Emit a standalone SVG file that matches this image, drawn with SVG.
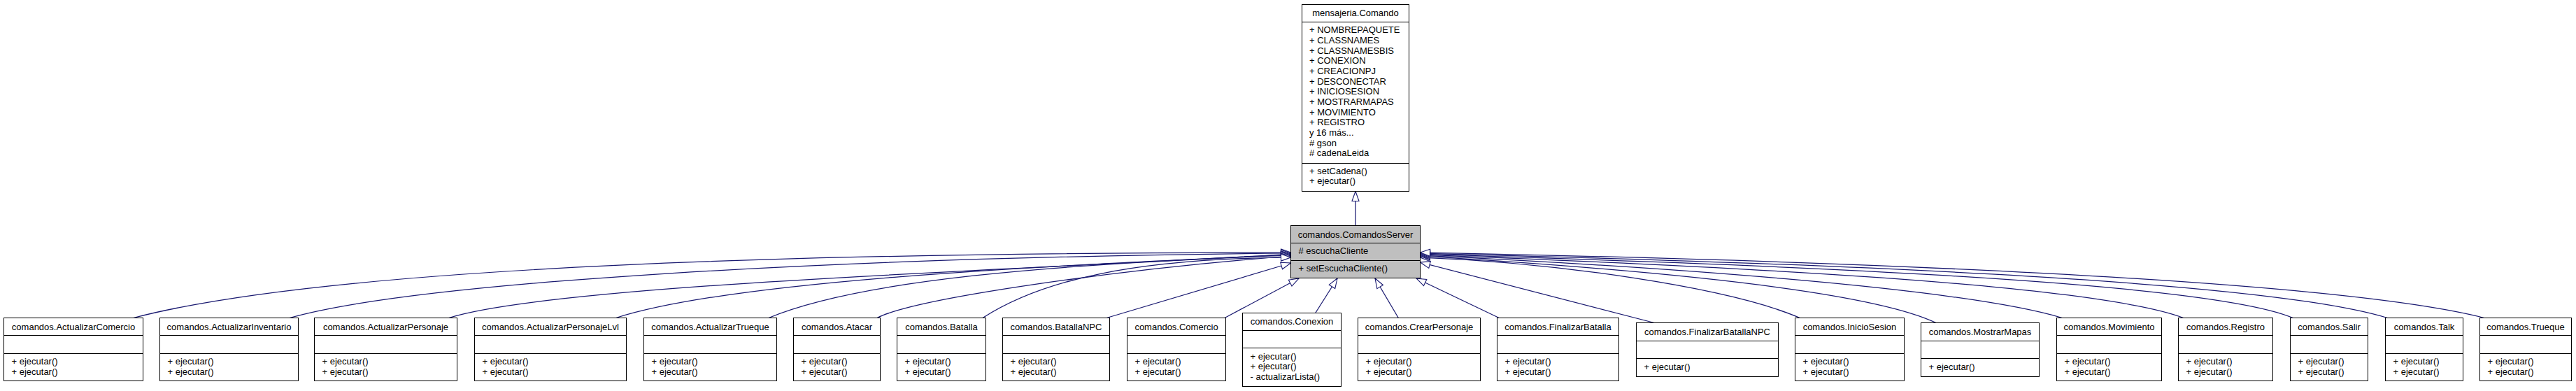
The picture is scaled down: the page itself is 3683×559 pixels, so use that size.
<svg xmlns="http://www.w3.org/2000/svg" width="3683" height="559" viewBox="0 0 3683 559">
<style>
.box{fill:#ffffff;stroke:#000000;stroke-width:1}
.cur{fill:#bfbfbf;stroke:#000000;stroke-width:1}
.sep{stroke:#000000;stroke-width:1}
text{font-family:"Liberation Sans",Arial,sans-serif;font-size:13px;fill:#000000}
.t{text-anchor:middle}
.e{fill:none;stroke:#191970;stroke-width:1.25;marker-end:url(#ah)}
</style>
<defs>
<marker id="ah" viewBox="-1 -6 16 12" refX="14" refY="0" markerWidth="16" markerHeight="12" markerUnits="userSpaceOnUse" orient="auto" overflow="visible">
<path d="M0,-5 L14,0 L0,5 Z" fill="#ffffff" stroke="#191970" stroke-width="1.1"/>
</marker>
</defs>
<rect width="3683" height="559" fill="#ffffff"/>

<g id="edges">
<path class="e" d="M1938,322.5 L1938,273.5"/>
<path class="e" d="M190.7,454.5 Q549,361 1845.5,361"/>
<path class="e" d="M414,454.5 C600,402 1200,368 1845.5,362"/>
<path class="e" d="M641.7,454.5 C800,405 1500,385 1845.5,363"/>
<path class="e" d="M880.7,454.5 C1050,400 1500,380 1845.5,364"/>
<path class="e" d="M1099,454.5 C1230,400 1500,378 1845.5,365"/>
<path class="e" d="M1254,454.5 C1310,426 1600,385 1845.5,366"/>
<path class="e" d="M1405,454.5 C1490,400 1620,370 1845.5,368"/>
<path class="e" d="M1582.3,454.5 L1845.5,376"/>
<path class="e" d="M1751,454.5 L1857,398"/>
<path class="e" d="M1880.7,447.5 L1912,398"/>
<path class="e" d="M1999.3,454.5 L1966,398"/>
<path class="e" d="M2143.3,454.5 L2025,398"/>
<path class="e" d="M2365,461.5 L2030.5,375"/>
<path class="e" d="M2573.3,454.5 C2470,410 2220,375 2030.5,368"/>
<path class="e" d="M2768,461.5 C2660,410 2300,382 2030.5,366"/>
<path class="e" d="M2948.3,454.5 C2800,410 2350,380 2030.5,365"/>
<path class="e" d="M3121.7,454.5 C2990,405 2450,380 2030.5,364"/>
<path class="e" d="M3278.3,454.5 C3150,400 2500,378 2030.5,363"/>
<path class="e" d="M3413.3,454.5 C3230,398 2550,375 2030.5,362"/>
<path class="e" d="M3551.7,454.5 C3330,398 2600,372 2030.5,361"/>
</g>

<g id="mensajeria.Comando">
<rect class="box" x="1861.5" y="6.5" width="153" height="267"/>
<line class="sep" x1="1861.5" y1="31.5" x2="2014.5" y2="31.5"/>
<line class="sep" x1="1861.5" y1="233.5" x2="2014.5" y2="233.5"/>
<text class="t" x="1938" y="23">mensajeria.Comando</text>
<text x="1872" y="47.3">+ NOMBREPAQUETE</text>
<text x="1872" y="62">+ CLASSNAMES</text>
<text x="1872" y="76.6">+ CLASSNAMESBIS</text>
<text x="1872" y="91.3">+ CONEXION</text>
<text x="1872" y="106">+ CREACIONPJ</text>
<text x="1872" y="120.6">+ DESCONECTAR</text>
<text x="1872" y="135.3">+ INICIOSESION</text>
<text x="1872" y="150">+ MOSTRARMAPAS</text>
<text x="1872" y="164.6">+ MOVIMIENTO</text>
<text x="1872" y="179.3">+ REGISTRO</text>
<text x="1872" y="194">y 16 más...</text>
<text x="1872" y="208.6"># gson</text>
<text x="1872" y="223.3"># cadenaLeida</text>
<text x="1872" y="248.5">+ setCadena()</text>
<text x="1872" y="263">+ ejecutar()</text>
</g>

<g id="comandos.ComandosServer">
<rect class="cur" x="1845.5" y="322.5" width="185" height="75"/>
<line class="sep" x1="1845.5" y1="347.5" x2="2030.5" y2="347.5"/>
<line class="sep" x1="1845.5" y1="372.5" x2="2030.5" y2="372.5"/>
<text class="t" x="1938" y="339.5">comandos.ComandosServer</text>
<text x="1856.5" y="363.3"># escuchaCliente</text>
<text x="1856.5" y="388.3">+ setEscuchaCliente()</text>
</g>

<g id="comandos.ActualizarComercio">
<rect class="box" x="5.5" y="454.5" width="199" height="90"/>
<line class="sep" x1="5.5" y1="479.5" x2="204.5" y2="479.5"/>
<line class="sep" x1="5.5" y1="505.5" x2="204.5" y2="505.5"/>
<text class="t" x="105" y="471.7">comandos.ActualizarComercio</text>
<text x="16.5" y="521.3">+ ejecutar()</text>
<text x="16.5" y="536">+ ejecutar()</text>
</g>

<g id="comandos.ActualizarInventario">
<rect class="box" x="228.5" y="454.5" width="198" height="90"/>
<line class="sep" x1="228.5" y1="479.5" x2="426.5" y2="479.5"/>
<line class="sep" x1="228.5" y1="505.5" x2="426.5" y2="505.5"/>
<text class="t" x="327.5" y="471.7">comandos.ActualizarInventario</text>
<text x="239.5" y="521.3">+ ejecutar()</text>
<text x="239.5" y="536">+ ejecutar()</text>
</g>

<g id="comandos.ActualizarPersonaje">
<rect class="box" x="449.5" y="454.5" width="204" height="90"/>
<line class="sep" x1="449.5" y1="479.5" x2="653.5" y2="479.5"/>
<line class="sep" x1="449.5" y1="505.5" x2="653.5" y2="505.5"/>
<text class="t" x="551.5" y="471.7">comandos.ActualizarPersonaje</text>
<text x="460.5" y="521.3">+ ejecutar()</text>
<text x="460.5" y="536">+ ejecutar()</text>
</g>

<g id="comandos.ActualizarPersonajeLvl">
<rect class="box" x="678.5" y="454.5" width="217" height="90"/>
<line class="sep" x1="678.5" y1="479.5" x2="895.5" y2="479.5"/>
<line class="sep" x1="678.5" y1="505.5" x2="895.5" y2="505.5"/>
<text class="t" x="787" y="471.7">comandos.ActualizarPersonajeLvl</text>
<text x="689.5" y="521.3">+ ejecutar()</text>
<text x="689.5" y="536">+ ejecutar()</text>
</g>

<g id="comandos.ActualizarTrueque">
<rect class="box" x="920.5" y="454.5" width="190" height="90"/>
<line class="sep" x1="920.5" y1="479.5" x2="1110.5" y2="479.5"/>
<line class="sep" x1="920.5" y1="505.5" x2="1110.5" y2="505.5"/>
<text class="t" x="1015.5" y="471.7">comandos.ActualizarTrueque</text>
<text x="931.5" y="521.3">+ ejecutar()</text>
<text x="931.5" y="536">+ ejecutar()</text>
</g>

<g id="comandos.Atacar">
<rect class="box" x="1134.5" y="454.5" width="124" height="90"/>
<line class="sep" x1="1134.5" y1="479.5" x2="1258.5" y2="479.5"/>
<line class="sep" x1="1134.5" y1="505.5" x2="1258.5" y2="505.5"/>
<text class="t" x="1196.5" y="471.7">comandos.Atacar</text>
<text x="1145.5" y="521.3">+ ejecutar()</text>
<text x="1145.5" y="536">+ ejecutar()</text>
</g>

<g id="comandos.Batalla">
<rect class="box" x="1282.5" y="454.5" width="127" height="90"/>
<line class="sep" x1="1282.5" y1="479.5" x2="1409.5" y2="479.5"/>
<line class="sep" x1="1282.5" y1="505.5" x2="1409.5" y2="505.5"/>
<text class="t" x="1346" y="471.7">comandos.Batalla</text>
<text x="1293.5" y="521.3">+ ejecutar()</text>
<text x="1293.5" y="536">+ ejecutar()</text>
</g>

<g id="comandos.BatallaNPC">
<rect class="box" x="1433.5" y="454.5" width="153" height="90"/>
<line class="sep" x1="1433.5" y1="479.5" x2="1586.5" y2="479.5"/>
<line class="sep" x1="1433.5" y1="505.5" x2="1586.5" y2="505.5"/>
<text class="t" x="1510" y="471.7">comandos.BatallaNPC</text>
<text x="1444.5" y="521.3">+ ejecutar()</text>
<text x="1444.5" y="536">+ ejecutar()</text>
</g>

<g id="comandos.Comercio">
<rect class="box" x="1611.5" y="454.5" width="141" height="90"/>
<line class="sep" x1="1611.5" y1="479.5" x2="1752.5" y2="479.5"/>
<line class="sep" x1="1611.5" y1="505.5" x2="1752.5" y2="505.5"/>
<text class="t" x="1682" y="471.7">comandos.Comercio</text>
<text x="1622.5" y="521.3">+ ejecutar()</text>
<text x="1622.5" y="536">+ ejecutar()</text>
</g>

<g id="comandos.Conexion">
<rect class="box" x="1776.5" y="447.5" width="141" height="105"/>
<line class="sep" x1="1776.5" y1="472.5" x2="1917.5" y2="472.5"/>
<line class="sep" x1="1776.5" y1="497.5" x2="1917.5" y2="497.5"/>
<text class="t" x="1847" y="464">comandos.Conexion</text>
<text x="1787.5" y="513.7">+ ejecutar()</text>
<text x="1787.5" y="528.4">+ ejecutar()</text>
<text x="1787.5" y="543.1">- actualizarLista()</text>
</g>

<g id="comandos.CrearPersonaje">
<rect class="box" x="1941.5" y="454.5" width="175" height="90"/>
<line class="sep" x1="1941.5" y1="479.5" x2="2116.5" y2="479.5"/>
<line class="sep" x1="1941.5" y1="505.5" x2="2116.5" y2="505.5"/>
<text class="t" x="2029" y="471.7">comandos.CrearPersonaje</text>
<text x="1952.5" y="521.3">+ ejecutar()</text>
<text x="1952.5" y="536">+ ejecutar()</text>
</g>

<g id="comandos.FinalizarBatalla">
<rect class="box" x="2140.5" y="454.5" width="174" height="90"/>
<line class="sep" x1="2140.5" y1="479.5" x2="2314.5" y2="479.5"/>
<line class="sep" x1="2140.5" y1="505.5" x2="2314.5" y2="505.5"/>
<text class="t" x="2227.5" y="471.7">comandos.FinalizarBatalla</text>
<text x="2151.5" y="521.3">+ ejecutar()</text>
<text x="2151.5" y="536">+ ejecutar()</text>
</g>

<g id="comandos.FinalizarBatallaNPC">
<rect class="box" x="2339.5" y="461.5" width="203" height="77"/>
<line class="sep" x1="2339.5" y1="487.5" x2="2542.5" y2="487.5"/>
<line class="sep" x1="2339.5" y1="512.5" x2="2542.5" y2="512.5"/>
<text class="t" x="2441" y="478.5">comandos.FinalizarBatallaNPC</text>
<text x="2350.5" y="528.5">+ ejecutar()</text>
</g>

<g id="comandos.InicioSesion">
<rect class="box" x="2566.5" y="454.5" width="156" height="90"/>
<line class="sep" x1="2566.5" y1="479.5" x2="2722.5" y2="479.5"/>
<line class="sep" x1="2566.5" y1="505.5" x2="2722.5" y2="505.5"/>
<text class="t" x="2644.5" y="471.7">comandos.InicioSesion</text>
<text x="2577.5" y="521.3">+ ejecutar()</text>
<text x="2577.5" y="536">+ ejecutar()</text>
</g>

<g id="comandos.MostrarMapas">
<rect class="box" x="2746.5" y="461.5" width="169" height="77"/>
<line class="sep" x1="2746.5" y1="487.5" x2="2915.5" y2="487.5"/>
<line class="sep" x1="2746.5" y1="512.5" x2="2915.5" y2="512.5"/>
<text class="t" x="2831" y="478.5">comandos.MostrarMapas</text>
<text x="2757.5" y="528.5">+ ejecutar()</text>
</g>

<g id="comandos.Movimiento">
<rect class="box" x="2940.5" y="454.5" width="150" height="90"/>
<line class="sep" x1="2940.5" y1="479.5" x2="3090.5" y2="479.5"/>
<line class="sep" x1="2940.5" y1="505.5" x2="3090.5" y2="505.5"/>
<text class="t" x="3015.5" y="471.7">comandos.Movimiento</text>
<text x="2951.5" y="521.3">+ ejecutar()</text>
<text x="2951.5" y="536">+ ejecutar()</text>
</g>

<g id="comandos.Registro">
<rect class="box" x="3114.5" y="454.5" width="135" height="90"/>
<line class="sep" x1="3114.5" y1="479.5" x2="3249.5" y2="479.5"/>
<line class="sep" x1="3114.5" y1="505.5" x2="3249.5" y2="505.5"/>
<text class="t" x="3182" y="471.7">comandos.Registro</text>
<text x="3125.5" y="521.3">+ ejecutar()</text>
<text x="3125.5" y="536">+ ejecutar()</text>
</g>

<g id="comandos.Salir">
<rect class="box" x="3274.5" y="454.5" width="111" height="90"/>
<line class="sep" x1="3274.5" y1="479.5" x2="3385.5" y2="479.5"/>
<line class="sep" x1="3274.5" y1="505.5" x2="3385.5" y2="505.5"/>
<text class="t" x="3330" y="471.7">comandos.Salir</text>
<text x="3285.5" y="521.3">+ ejecutar()</text>
<text x="3285.5" y="536">+ ejecutar()</text>
</g>

<g id="comandos.Talk">
<rect class="box" x="3410.5" y="454.5" width="111" height="90"/>
<line class="sep" x1="3410.5" y1="479.5" x2="3521.5" y2="479.5"/>
<line class="sep" x1="3410.5" y1="505.5" x2="3521.5" y2="505.5"/>
<text class="t" x="3466" y="471.7">comandos.Talk</text>
<text x="3421.5" y="521.3">+ ejecutar()</text>
<text x="3421.5" y="536">+ ejecutar()</text>
</g>

<g id="comandos.Trueque">
<rect class="box" x="3545.5" y="454.5" width="131" height="90"/>
<line class="sep" x1="3545.5" y1="479.5" x2="3676.5" y2="479.5"/>
<line class="sep" x1="3545.5" y1="505.5" x2="3676.5" y2="505.5"/>
<text class="t" x="3611" y="471.7">comandos.Trueque</text>
<text x="3556.5" y="521.3">+ ejecutar()</text>
<text x="3556.5" y="536">+ ejecutar()</text>
</g>
</svg>
